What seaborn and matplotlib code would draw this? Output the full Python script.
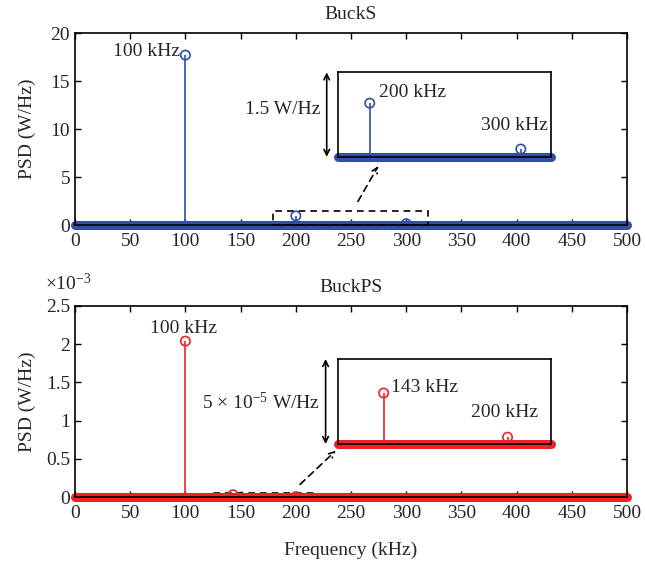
import matplotlib
matplotlib.use("Agg")
import matplotlib.pyplot as plt
import seaborn as sns
import pandas as pd
from matplotlib.patches import Rectangle

# ---- data ----
bucks_freq = [100, 200, 300]
bucks_psd = [17.7, 0.95, 0.14]
buckps_freq = [100, 143, 200]
buckps_psd = [2.04e-3, 3.0e-5, 0.4e-5]

top_yticks = [0, 5, 10, 15, 20]
bot_yticks = [0, 0.5e-3, 1.0e-3, 1.5e-3, 2.0e-3, 2.5e-3]
bot_yticklabels = ["0", "0.5", "1", "1.5", "2", "2.5"]
xticks = [0, 50, 100, 150, 200, 250, 300, 350, 400, 450, 500]

sns.set_style("ticks")
plt.rcParams["font.family"] = ["Liberation Serif", "DejaVu Serif"]
plt.rcParams["mathtext.fontset"] = "custom"
plt.rcParams["mathtext.rm"] = "Liberation Serif"
plt.rcParams["mathtext.it"] = "Liberation Serif:italic"

BLUE = "#2f4fa8"
RED = "#ec2227"
FS = 14

W, H = 645, 561
fig = plt.figure(figsize=(W / 100, H / 100), dpi=100)


def frac(x0, y0, x1, y1):
    return [x0 / W, 1 - y1 / H, (x1 - x0) / W, (y1 - y0) / H]


def stems(ax, f, p, color, xlim):
    ax.vlines(f, 0, p, color=color, lw=1.2, zorder=3)
    df = pd.DataFrame({"f": f, "p": p})
    sns.scatterplot(data=df, x="f", y="p", ax=ax, marker="o", s=45,
                    facecolor="none", edgecolor=color, linewidth=1.2,
                    zorder=4, legend=False, clip_on=False)
    ax.plot(xlim, [0, 0], color=color, lw=6.5, solid_capstyle="round",
            zorder=2, clip_on=False)


def style_main(ax, ylim, yticks):
    ax.set_xlim(0, 500)
    ax.set_ylim(*ylim)
    ax.set_xticks(xticks)
    ax.set_yticks(yticks)
    ax.tick_params(direction="in", top=True, right=True, labelsize=FS,
                   length=4, width=1, color="black")
    ax.tick_params(axis="x", pad=6)
    for s in ax.spines.values():
        s.set_visible(True)
        s.set_color("black")
        s.set_linewidth(1.2)
        s.set_zorder(5)
    ax.set_xlabel("")
    ax.set_ylabel("PSD (W/Hz)", fontsize=FS)
    ax.grid(False)


# ---------------- top ----------------
ax1 = fig.add_axes(frac(75, 33, 627, 225))
stems(ax1, bucks_freq, bucks_psd, BLUE, [0, 500])
style_main(ax1, (0, 20), top_yticks)
ax1.set_title("BuckS", fontsize=FS, pad=10)
ax1.yaxis.set_label_coords(-0.071, 0.5)
ax1.text(95, 18.1, "100 kHz", ha="right", va="center", fontsize=FS)
ax1.add_patch(Rectangle((179, 0), 141, 1.5, fill=False, ls=(0, (4, 3)),
                        lw=1.2, ec="black", zorder=6))
ax1.annotate("", xy=(276, 6.4), xytext=(255, 2.2),
             arrowprops=dict(arrowstyle="->", ls=(0, (4, 3)), lw=1.2,
                             color="black"), annotation_clip=False)
ax1.annotate("", xy=(228, 15.9), xytext=(228, 7.1),
             arrowprops=dict(arrowstyle="<->", lw=1.2, color="black",
                             shrinkA=0, shrinkB=0), annotation_clip=False)
ax1.text(222, 12.0, "1.5 W/Hz", ha="right", va="center", fontsize=FS)

in1 = fig.add_axes(frac(338, 72, 551, 157))
stems(in1, bucks_freq, bucks_psd, BLUE, [179, 320])
in1.set_xlim(179, 320)
in1.set_ylim(0, 1.5)
in1.set_xticks([])
in1.set_yticks([])
in1.set_xlabel("")
in1.set_ylabel("")
for s in in1.spines.values():
    s.set_visible(True)
    s.set_color("black")
    s.set_linewidth(1.2)
    s.set_zorder(5)
in1.text(206, 1.13, "200 kHz", ha="left", va="center", fontsize=FS)
in1.text(318, 0.55, "300 kHz", ha="right", va="center", fontsize=FS)

# ---------------- bottom ----------------
ax2 = fig.add_axes(frac(75, 306, 627, 497))
stems(ax2, buckps_freq, buckps_psd, RED, [0, 500])
style_main(ax2, (0, 2.5e-3), bot_yticks)
ax2.set_yticklabels(bot_yticklabels)
ax2.set_title("BuckPS", fontsize=FS, pad=10)
ax2.set_xlabel("Frequency (kHz)", fontsize=FS, labelpad=14)
ax2.yaxis.set_label_coords(-0.071, 0.5)
fig.text(45 / W, 1 - 283 / H, r"$\times10^{-3}$", ha="left", va="center",
         fontsize=FS)
ax2.text(98.7, 2.21e-3, "100 kHz", ha="center", va="center", fontsize=FS)
ax2.add_patch(Rectangle((122, 0), 98, 5e-5, fill=False, ls=(0, (4, 3)),
                        lw=1.2, ec="black", zorder=1))
ax2.annotate("", xy=(238, 0.63e-3), xytext=(202, 0.14e-3),
             arrowprops=dict(arrowstyle="->", ls=(0, (4, 3)), lw=1.2,
                             color="black"), annotation_clip=False)
ax2.annotate("", xy=(227, 1.806e-3), xytext=(227, 0.694e-3),
             arrowprops=dict(arrowstyle="<->", lw=1.2, color="black",
                             shrinkA=0, shrinkB=0), annotation_clip=False)
ax2.text(222, 1.243e-3, r"5 $\times$ 10$^{-5}$ W/Hz", ha="right",
         va="center", fontsize=FS)

in2 = fig.add_axes(frac(338, 359, 551, 444))
stems(in2, buckps_freq, buckps_psd, RED, [122, 220])
in2.set_xlim(122, 220)
in2.set_ylim(0, 5e-5)
in2.set_xticks([])
in2.set_yticks([])
in2.set_xlabel("")
in2.set_ylabel("")
for s in in2.spines.values():
    s.set_visible(True)
    s.set_color("black")
    s.set_linewidth(1.2)
    s.set_zorder(5)
in2.text(146.4, 3.35e-5, "143 kHz", ha="left", va="center", fontsize=FS)
in2.text(183.2, 1.88e-5, "200 kHz", ha="left", va="center", fontsize=FS)

fig.savefig("out.png", dpi=100)
